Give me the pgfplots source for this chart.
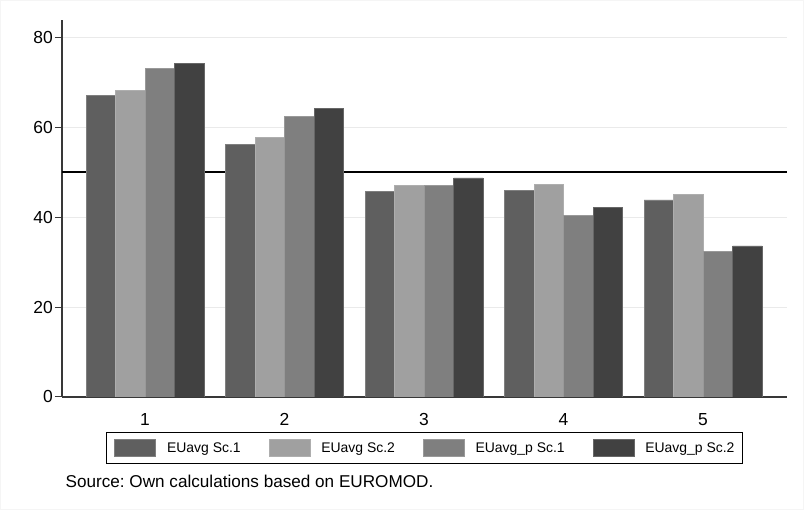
\documentclass[border=0pt]{standalone}
\usepackage{fontspec}
\setmainfont{Liberation Sans}
\usepackage{pgfplots}
\pgfplotsset{compat=1.18}
\frenchspacing

\definecolor{barA}{HTML}{5F5F5F}
\definecolor{barB}{HTML}{A0A0A0}
\definecolor{barC}{HTML}{7F7F7F}
\definecolor{barD}{HTML}{414141}
\definecolor{gridc}{HTML}{EAEAEA}

\pgfplotsset{
  swatch/.style={legend image code/.code={
    \fill[##1] (0bp,-8.5bp) rectangle (41bp,8.5bp);}},
}

\begin{document}
\begin{tikzpicture}[x=1bp,y=1bp]
\path[use as bounding box] (0,0) rectangle (804,510);
\draw[gray!8, line width=0.8bp] (0.4,0.4) rectangle (803.6,509.6);
\begin{axis}[
  at={(62bp,113bp)}, anchor=south west,
  scale only axis,
  width=725bp, height=377bp,
  xmin=0.405, xmax=5.602,
  ymin=0, ymax=83.8,
  ybar=0pt, bar width=29.5bp,
  axis lines*=left,
  axis line style={draw=black!78, line width=1.1bp},
  xtick={1,2,3,4,5},
  ytick={0,20,40,60,80},
  x tick style={draw=none},
  y tick style={draw=black!78, line width=1bp},
  tick align=outside,
  major tick length=7bp,
  ymajorgrids=true,
  grid style={draw=gridc, line width=1bp},
  tick label style={font=\fontsize{17.5}{20}\selectfont},
  /pgf/number format/assume math mode=true,
  yticklabel style={inner xsep=2bp},
  xticklabel style={yshift=-6bp},
  legend columns=4,
  legend style={
    at={(0.5,0)}, anchor=center, yshift=-51bp,
    draw=black, line width=1bp,
    font=\fontsize{14}{16}\selectfont,
    inner xsep=8bp, inner ysep=7bp,
    nodes={inner xsep=0pt, inner ysep=0pt},
    /tikz/every odd column/.append style={column sep=11bp},
    /tikz/every even column/.append style={column sep=28bp},
  },
  legend cell align=left,
]
\addplot[sharp plot, black, line width=1.1bp, forget plot, mark=none]
  coordinates {(0.405,50)(5.602,50)};

\addplot[fill=barA, draw=barA!80!white, line width=0.6bp, swatch]
  coordinates {(1,67.0)(2,56.2)(3,45.7)(4,45.9)(5,43.8)};
\addlegendentry{EUavg Sc.1}
\addplot[fill=barB, draw=barB!85!white, line width=0.6bp, swatch]
  coordinates {(1,68.1)(2,57.7)(3,47.1)(4,47.3)(5,45.0)};
\addlegendentry{EUavg Sc.2}
\addplot[fill=barC, draw=barC!80!white, line width=0.6bp, swatch]
  coordinates {(1,73.1)(2,62.4)(3,47.0)(4,40.4)(5,32.4)};
\addlegendentry{EUavg\_p Sc.1}
\addplot[fill=barD, draw=barD!80!white, line width=0.6bp, swatch]
  coordinates {(1,74.2)(2,64.1)(3,48.7)(4,42.2)(5,33.6)};
\addlegendentry{EUavg\_p Sc.2}
\end{axis}
\node[anchor=base west, inner sep=0pt, font=\fontsize{17.2}{20}\selectfont]
  at (65.5,22) {Source: Own calculations based on EUROMOD.};
\end{tikzpicture}
\end{document}
